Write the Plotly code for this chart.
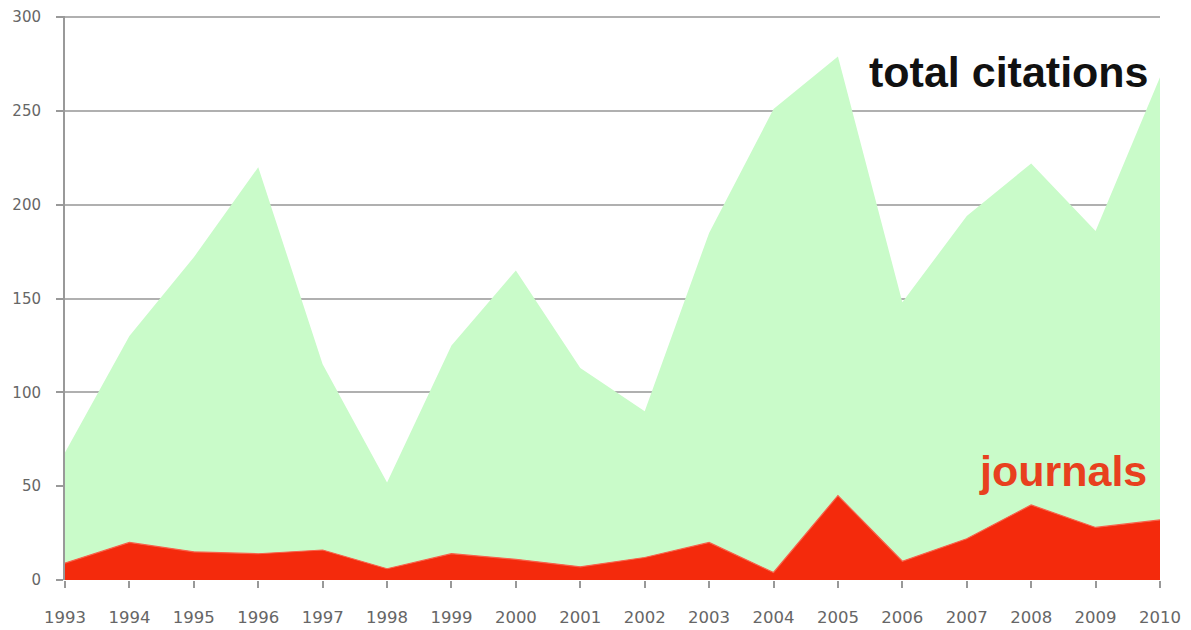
import plotly.graph_objects as go

years = list(range(1993, 2011))
total_citations = [68, 130, 172, 220, 115, 52, 125, 165, 113, 90, 185, 251, 279, 148, 194, 222, 186, 268]
journals = [9, 20, 15, 14, 16, 6, 14, 11, 7, 12, 20, 4, 45, 10, 22, 40, 28, 32]
y_ticks = [0, 50, 100, 150, 200, 250, 300]

fig = go.Figure()
fig.add_trace(go.Scatter(
    x=years, y=total_citations, mode="lines", fill="tozeroy",
    line=dict(color="#c9fbc9", width=0), fillcolor="#c9fbc9",
    name="total citations", hoverinfo="x+y"))
fig.add_trace(go.Scatter(
    x=years, y=journals, mode="lines", fill="tozeroy",
    line=dict(color="#f8604a", width=1.2), fillcolor="#f42a0c",
    name="journals", hoverinfo="x+y"))

fig.add_annotation(x=2010, y=271, xref="x", yref="y", text="<b>total citations</b>",
                   showarrow=False, xanchor="right", yanchor="middle", xshift=-9,
                   font=dict(family="Liberation Sans, Arial", size=43, color="#111111"))
fig.add_annotation(x=2010, y=58, xref="x", yref="y", text="<b>journals</b>",
                   showarrow=False, xanchor="right", yanchor="middle", xshift=-11,
                   font=dict(family="Liberation Sans, Arial", size=43, color="#e8401e"))

fig.update_layout(
    width=1191, height=630,
    margin=dict(l=57, r=39, t=8, b=58),
    paper_bgcolor="white", plot_bgcolor="white",
    showlegend=False,
    font=dict(family="DejaVu Sans", size=15, color="#666666"),
)
fig.update_xaxes(
    range=[1993, 2010], tickmode="array", tickvals=years, ticktext=[str(y) for y in years],
    showgrid=False, zeroline=False, showline=False, automargin=False,
    ticks="outside", ticklen=7, tickcolor="#999999", tickwidth=1.5,
    ticklabelstandoff=15,
    tickfont=dict(family="DejaVu Sans", size=16.5, color="#666666"),
)
fig.update_yaxes(
    range=[0, 300.6], tickmode="array", tickvals=y_ticks,
    showgrid=True, gridcolor="#b0b0b0", gridwidth=2, automargin=False,
    zeroline=False, showline=True, linecolor="#999999", linewidth=2,
    ticks="outside", ticklen=7, tickcolor="#999999", tickwidth=1.5,
    ticklabelstandoff=12,
    tickfont=dict(family="DejaVu Sans", size=15, color="#666666"),
)

fig.write_html("out.html")
